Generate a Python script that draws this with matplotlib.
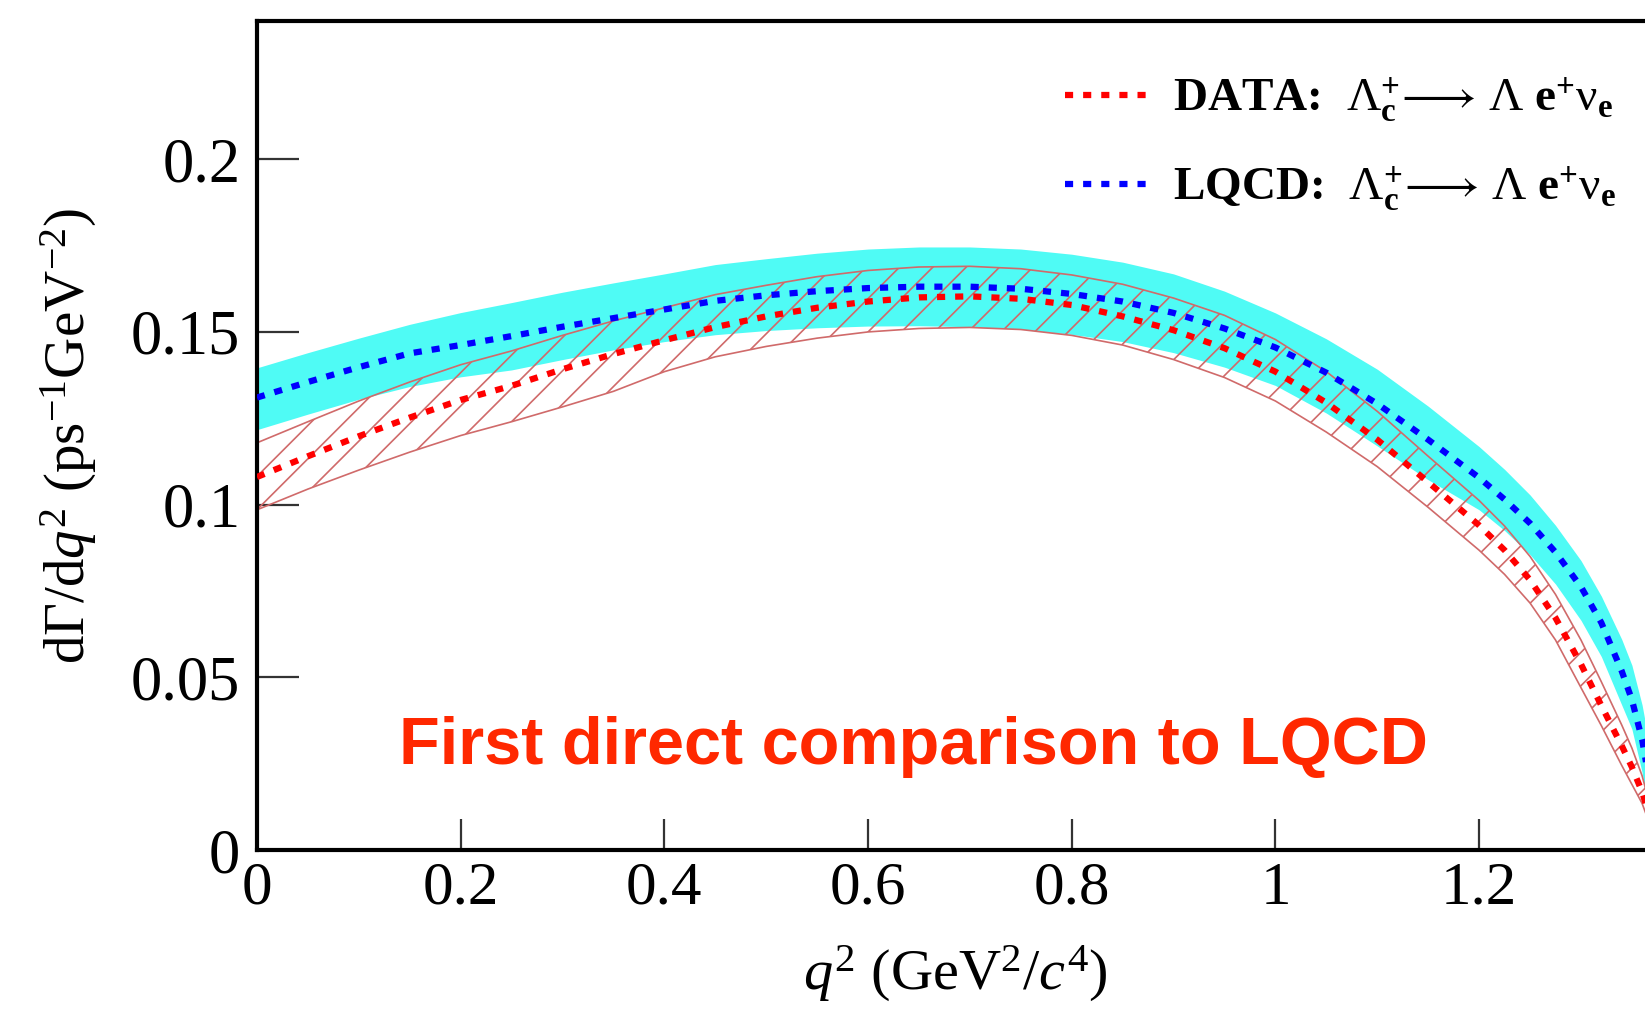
import matplotlib
matplotlib.use("Agg")
from matplotlib import pyplot as plt
from matplotlib.lines import Line2D

plt.rcParams['font.family'] = ['Liberation Serif', 'DejaVu Serif']
plt.rcParams['mathtext.fontset'] = 'custom'
plt.rcParams['mathtext.rm'] = 'Liberation Serif'
plt.rcParams['mathtext.it'] = 'Liberation Serif:italic'
plt.rcParams['mathtext.bf'] = 'Liberation Serif:bold'
plt.rcParams['mathtext.fallback'] = 'stix'
plt.rcParams['hatch.linewidth'] = 1.2

# q^2 points (GeV^2/c^4)
q2 = [0.0, 0.05, 0.1, 0.15, 0.2, 0.25, 0.3, 0.35, 0.4, 0.45, 0.5, 0.55, 0.6,
      0.65, 0.7, 0.75, 0.8, 0.85, 0.9, 0.95, 1.0, 1.05, 1.1, 1.15, 1.2,
      1.225, 1.25, 1.275, 1.3, 1.32, 1.34, 1.35, 1.36, 1.365, 1.369]

# DATA: central value and error band
data_mid = [0.1080, 0.1140, 0.1198, 0.1252, 0.1303, 0.1344, 0.1392, 0.1436, 0.1476,
            0.1514, 0.1545, 0.1570, 0.1588, 0.1600, 0.1603, 0.1596, 0.1578, 0.1545,
            0.1505, 0.1453, 0.1385, 0.1295, 0.1188, 0.1065, 0.0940, 0.0868, 0.0782,
            0.0672, 0.0538, 0.0418, 0.0302, 0.0240, 0.0168, 0.0120, 0.0]
data_hi = [0.1179, 0.1240, 0.1300, 0.1355, 0.1405, 0.1445, 0.1490, 0.1532, 0.1570,
           0.1608, 0.1635, 0.1660, 0.1678, 0.1688, 0.1690, 0.1683, 0.1665, 0.1638,
           0.1598, 0.1548, 0.1478, 0.1385, 0.1270, 0.1140, 0.1012, 0.0938, 0.0850,
           0.0740, 0.0608, 0.0487, 0.0362, 0.0295, 0.0215, 0.0160, 0.0]
data_lo = [0.0985, 0.1045, 0.1100, 0.1152, 0.1200, 0.1240, 0.1283, 0.1328, 0.1385,
           0.1428, 0.1458, 0.1482, 0.1500, 0.1510, 0.1513, 0.1507, 0.1490, 0.1462,
           0.1420, 0.1368, 0.1300, 0.1210, 0.1110, 0.0992, 0.0868, 0.0798, 0.0715,
           0.0608, 0.0470, 0.0360, 0.0245, 0.0190, 0.0135, 0.0095, 0.0]

# LQCD: central value and error band
lqcd_mid = [0.1310, 0.1355, 0.1398, 0.1438, 0.1462, 0.1488, 0.1515, 0.1540, 0.1565,
            0.1590, 0.1606, 0.1618, 0.1627, 0.1631, 0.1631, 0.1625, 0.1610, 0.1588,
            0.1555, 0.1510, 0.1455, 0.1382, 0.1292, 0.1188, 0.1078, 0.1015, 0.0946,
            0.0862, 0.0762, 0.0658, 0.0518, 0.0435, 0.0320, 0.0235, 0.0]
lqcd_hi = [0.1396, 0.1440, 0.1482, 0.1522, 0.1556, 0.1585, 0.1615, 0.1642, 0.1668,
           0.1695, 0.1712, 0.1728, 0.1740, 0.1746, 0.1746, 0.1740, 0.1725, 0.1702,
           0.1668, 0.1618, 0.1555, 0.1480, 0.1392, 0.1285, 0.1168, 0.1102, 0.1028,
           0.0940, 0.0838, 0.0735, 0.0610, 0.0535, 0.0420, 0.0340, 0.0]
lqcd_lo = [0.1217, 0.1262, 0.1305, 0.1342, 0.1370, 0.1390, 0.1420, 0.1448, 0.1472,
           0.1492, 0.1504, 0.1512, 0.1517, 0.1518, 0.1515, 0.1508, 0.1493, 0.1472,
           0.1440, 0.1398, 0.1345, 0.1265, 0.1170, 0.1072, 0.0985, 0.0925, 0.0855,
           0.0770, 0.0665, 0.0560, 0.0420, 0.0350, 0.0225, 0.0130, 0.0]

xticks = [0, 0.2, 0.4, 0.6, 0.8, 1.0, 1.2]
xticklabels = ['0', '0.2', '0.4', '0.6', '0.8', '1', '1.2']
yticks = [0, 0.05, 0.1, 0.15, 0.2]
yticklabels = ['0', '0.05', '0.1', '0.15', '0.2']

fig = plt.figure(figsize=(16.45, 10.18), dpi=100)
ax = fig.add_axes([0.1562, 0.165, 0.8668, 0.8143])

# bands
ax.fill_between(q2, lqcd_lo, lqcd_hi, color='#4ffbf5', linewidth=0, zorder=1)
ax.fill_between(q2, data_lo, data_hi, facecolor='none', edgecolor='#d06a6a',
                hatch='/', linewidth=1.2, zorder=2)
ax.axhline(0, color='#eaa0a0', linewidth=2.5, zorder=2)

# central curves
ax.plot(q2, lqcd_mid, color='#0000ff', linewidth=4.5, dashes=(1.3, 1.6),
        dash_capstyle='butt', zorder=3)
ax.plot(q2, data_mid, color='#ff0000', linewidth=4.5, dashes=(1.3, 1.6),
        dash_capstyle='butt', zorder=4)

ax.set_xlim(0, 1.4)
ax.set_ylim(0, 0.24)
ax.set_xticks(xticks)
ax.set_xticklabels(xticklabels)
ax.set_yticks(yticks)
ax.set_yticklabels(yticklabels)
ax.tick_params(axis='y', direction='in', length=30, width=1.6, color='#333333',
               labelsize=45, pad=12)
ax.tick_params(axis='x', direction='in', length=22, width=1.6, color='#333333',
               labelsize=44, pad=8)
for s in ax.spines.values():
    s.set_linewidth(3)

ax.set_ylabel(r'd$\Gamma$/d$q^{2}$ (ps$^{-1}$GeV$^{-2}$)', fontsize=41)
ax.yaxis.set_label_coords(-0.111, 0.5)
ax.set_xlabel(r'$q^{2}$ (GeV$^{2}$/$c^{4}$)', fontsize=42)
ax.xaxis.set_label_coords(0.4895, -0.113)

# legend
decay = r'$\Lambda_{\mathbf{c}}^{\mathbf{+}}\!\longrightarrow\,\Lambda\ \mathbf{e}^{\mathbf{+}}\mathrm{\nu}_{\mathbf{e}}$'
handles = [Line2D([], [], color='#ff0000', linewidth=4.5, dashes=(1.3, 1.6)),
           Line2D([], [], color='#0000ff', linewidth=4.5, dashes=(1.3, 1.6))]
labels = ['DATA:  ' + decay, 'LQCD:  ' + decay]
fig.legend(handles, labels, loc='upper left', bbox_to_anchor=(0.6474, 0.926),
           frameon=False, prop={'family': 'Liberation Serif', 'weight': 'bold', 'size': 34},
           handlelength=1.78, handletextpad=0.5, labelspacing=0.87, borderpad=0,
           borderaxespad=0)

ax.text(0.645, 0.0298, 'First direct comparison to LQCD', color='#ff2800',
        fontsize=48, fontweight='bold', family='Liberation Sans',
        ha='center', va='center')

fig.savefig('out.png', dpi=100)
